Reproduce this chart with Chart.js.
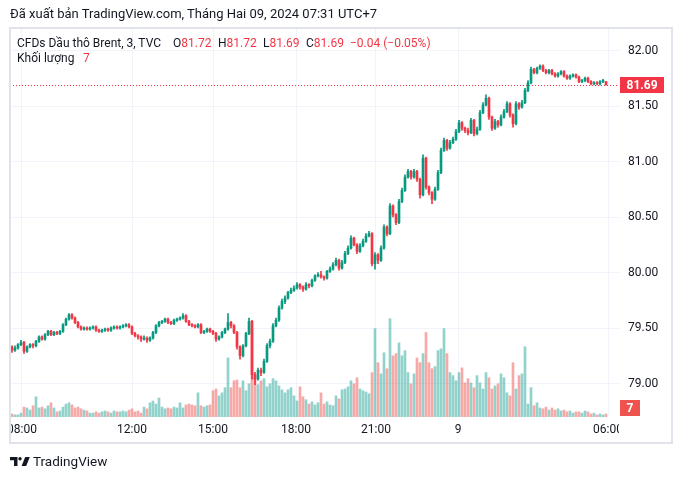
<!DOCTYPE html>
<html>
<head>
<meta charset="utf-8">
<script src="https://cdn.jsdelivr.net/npm/chart.js@4.4.1/dist/chart.umd.min.js"></script>
<style>
html,body{margin:0;padding:0;background:#fff;width:682px;height:479px;overflow:hidden;font-family:Roboto,"Liberation Sans",sans-serif;color:#131722}
#wrap{position:relative;width:682px;height:479px}
#c{position:absolute;left:0;top:0;width:682px;height:479px}
.t{position:absolute;white-space:nowrap;font-size:13px;line-height:16px;color:#131722}
.lg{font-size:12px;line-height:16px}
.r{color:#f23645}
#frame{position:absolute;left:9px;top:27px;width:664px;height:417px;box-sizing:border-box;border:2px solid #e0e3eb;pointer-events:none}
#logo{position:absolute;left:10px;top:457px}
</style>
</head>
<body>
<div id="wrap">
<canvas id="c" width="682" height="479"></canvas>
<div id="frame"></div>
<div class="t" style="left:10px;top:6px">Đã xuất bản TradingView.com, Tháng Hai 09, 2024 07:31 UTC+7</div>
<div class="t lg" style="left:17px;top:35px">CFDs Dầu thô Brent, 3, TVC</div>
<div class="t lg" style="left:173px;top:35px">O<span class="r">81.72</span></div>
<div class="t lg" style="left:218px;top:35px">H<span class="r">81.72</span></div>
<div class="t lg" style="left:263px;top:35px">L<span class="r">81.69</span></div>
<div class="t lg" style="left:306px;top:35px">C<span class="r">81.69</span></div>
<div class="t lg r" style="left:350px;top:35px">−0.04 (−0.05%)</div>
<div class="t lg" style="left:17px;top:50px">Khối lượng</div>
<div class="t lg r" style="left:83px;top:50px">7</div>
<svg id="logo" width="20" height="9" viewBox="0 0 20 9"><path fill="#131722" d="M0 0H7.5V9H4V3.2H0Z"/><circle fill="#131722" cx="10" cy="1.7" r="1.7"/><path fill="#131722" d="M11.6 9L15.2 0H19.8L16.2 9Z"/></svg>
<div class="t" style="left:33px;top:453px;font-size:13.5px">TradingView</div>
</div>
<script>
// ---- data: 3-min CFD Brent candles (resampled slots) ----
const opens = [
79.33,79.30,79.32,79.35,79.37,79.29,79.33,79.35,79.34,79.38,
79.42,79.40,79.44,79.47,79.44,79.46,79.45,79.47,79.53,79.58,
79.62,79.59,79.55,79.51,79.49,79.50,79.49,79.50,79.51,79.48,
79.47,79.48,79.49,79.48,79.50,79.51,79.50,79.51,79.52,79.53,
79.51,79.45,79.43,79.42,79.40,79.41,79.39,79.41,79.46,79.52,
79.55,79.56,79.58,79.55,79.54,79.57,79.58,79.59,79.61,79.56,
79.53,79.52,79.51,79.53,79.46,79.47,79.49,79.47,79.45,79.40,
79.42,79.46,79.49,79.55,79.52,79.46,79.33,79.25,79.34,79.45,
79.56,79.08,79.04,79.12,79.10,79.20,79.34,79.38,79.52,79.57,
79.68,79.74,79.77,79.82,79.84,79.86,79.89,79.87,79.85,79.89,
79.88,79.93,79.97,79.98,79.96,79.95,80.01,80.03,80.07,80.11,
80.04,80.09,80.17,80.22,80.31,80.25,80.19,80.24,80.28,80.33,
80.35,80.08,80.16,80.11,80.22,80.41,80.35,80.60,80.52,80.45,
80.64,80.74,80.86,80.91,80.86,80.91,80.84,80.70,81.03,80.77,
80.72,80.66,80.75,80.90,81.10,81.19,81.12,81.17,81.20,81.27,
81.35,81.30,81.28,81.26,81.37,81.25,81.29,81.44,81.51,81.57,
81.40,81.30,81.36,81.33,81.40,81.45,81.52,81.42,81.34,81.52,
81.49,81.53,81.64,81.71,81.83,81.80,81.84,81.86,81.82,81.80,
81.82,81.79,81.77,81.79,81.81,81.77,81.75,81.77,81.78,81.76,
81.72,81.73,81.75,81.72,81.70,81.71,81.70,81.72,81.72];
const highs = [
79.34,79.34,79.36,79.39,79.38,79.34,79.36,79.36,79.39,79.43,
79.43,79.45,79.48,79.48,79.47,79.47,79.48,79.54,79.59,79.63,
79.63,79.60,79.56,79.52,79.51,79.51,79.51,79.52,79.52,79.49,
79.49,79.50,79.50,79.51,79.52,79.52,79.52,79.53,79.54,79.54,
79.52,79.46,79.44,79.43,79.43,79.42,79.42,79.47,79.53,79.56,
79.57,79.59,79.59,79.56,79.58,79.59,79.60,79.63,79.62,79.57,
79.54,79.53,79.54,79.54,79.48,79.50,79.50,79.48,79.46,79.43,
79.47,79.50,79.63,79.56,79.53,79.47,79.34,79.35,79.46,79.59,
79.57,79.10,79.14,79.14,79.22,79.36,79.40,79.54,79.59,79.70,
79.76,79.79,79.83,79.86,79.88,79.91,79.90,79.88,79.91,79.90,
79.94,79.98,80.00,80.01,79.97,80.02,80.05,80.09,80.13,80.12,
80.11,80.19,80.24,80.33,80.32,80.26,80.26,80.30,80.35,80.37,
80.36,80.18,80.17,80.24,80.43,80.42,80.62,80.61,80.53,80.66,
80.76,80.88,80.93,80.92,80.93,80.92,80.85,81.06,81.04,80.78,
80.73,80.77,80.92,81.12,81.21,81.20,81.19,81.22,81.29,81.37,
81.36,81.31,81.30,81.39,81.38,81.31,81.46,81.53,81.60,81.58,
81.41,81.38,81.37,81.42,81.47,81.54,81.53,81.43,81.54,81.53,
81.55,81.66,81.73,81.85,81.84,81.85,81.87,81.87,81.83,81.83,
81.83,81.80,81.80,81.82,81.82,81.78,81.78,81.79,81.79,81.77,
81.74,81.76,81.76,81.73,81.72,81.72,81.73,81.74,81.72];
const lows = [
79.28,79.29,79.31,79.34,79.27,79.28,79.32,79.32,79.33,79.37,
79.39,79.39,79.43,79.43,79.43,79.44,79.44,79.46,79.52,79.57,
79.58,79.54,79.50,79.48,79.48,79.48,79.48,79.49,79.47,79.46,
79.46,79.47,79.47,79.47,79.49,79.49,79.49,79.50,79.51,79.50,
79.44,79.42,79.40,79.38,79.39,79.37,79.38,79.40,79.45,79.51,
79.54,79.55,79.54,79.53,79.53,79.56,79.57,79.58,79.55,79.52,
79.51,79.50,79.50,79.45,79.45,79.46,79.46,79.44,79.38,79.39,
79.41,79.45,79.48,79.50,79.45,79.31,79.22,79.24,79.33,79.44,
79.04,78.99,79.03,79.07,79.09,79.19,79.32,79.37,79.51,79.56,
79.67,79.72,79.76,79.81,79.83,79.85,79.85,79.83,79.84,79.86,
79.87,79.92,79.96,79.95,79.93,79.94,80.00,80.02,80.06,80.02,
80.03,80.08,80.16,80.21,80.24,80.17,80.18,80.23,80.27,80.32,
80.06,80.03,80.08,80.10,80.21,80.33,80.34,80.50,80.43,80.44,
80.63,80.73,80.85,80.84,80.85,80.82,80.67,80.69,80.75,80.70,
80.62,80.65,80.74,80.89,81.09,81.10,81.11,81.16,81.19,81.26,
81.28,81.26,81.24,81.25,81.23,81.24,81.28,81.43,81.50,81.38,
81.28,81.29,81.31,81.32,81.39,81.44,81.40,81.31,81.33,81.47,
81.48,81.52,81.63,81.70,81.79,81.79,81.83,81.81,81.79,81.79,
81.78,81.76,81.76,81.78,81.76,81.74,81.74,81.76,81.75,81.71,
81.71,81.72,81.71,81.69,81.69,81.69,81.69,81.71,81.69];
const closes = [
79.30,79.32,79.35,79.37,79.29,79.33,79.35,79.34,79.38,79.42,
79.40,79.44,79.47,79.44,79.46,79.45,79.47,79.53,79.58,79.62,
79.59,79.55,79.51,79.49,79.50,79.49,79.50,79.51,79.48,79.47,
79.48,79.49,79.48,79.50,79.51,79.50,79.51,79.52,79.53,79.51,
79.45,79.43,79.42,79.40,79.41,79.39,79.41,79.46,79.52,79.55,
79.56,79.58,79.55,79.54,79.57,79.58,79.59,79.61,79.56,79.53,
79.52,79.51,79.53,79.46,79.47,79.49,79.47,79.45,79.40,79.42,
79.46,79.49,79.55,79.52,79.46,79.33,79.25,79.34,79.45,79.56,
79.08,79.04,79.12,79.10,79.20,79.34,79.38,79.52,79.57,79.68,
79.74,79.77,79.82,79.84,79.86,79.89,79.87,79.85,79.89,79.88,
79.93,79.97,79.98,79.96,79.95,80.01,80.03,80.07,80.11,80.04,
80.09,80.17,80.22,80.31,80.25,80.19,80.24,80.28,80.33,80.35,
80.08,80.16,80.11,80.22,80.41,80.35,80.60,80.52,80.45,80.64,
80.74,80.86,80.91,80.86,80.91,80.84,80.70,81.03,80.77,80.72,
80.66,80.75,80.90,81.10,81.19,81.12,81.17,81.20,81.27,81.35,
81.30,81.28,81.26,81.37,81.25,81.29,81.44,81.51,81.57,81.40,
81.30,81.36,81.33,81.40,81.45,81.52,81.42,81.34,81.52,81.49,
81.53,81.64,81.71,81.83,81.80,81.84,81.86,81.82,81.80,81.82,
81.79,81.77,81.79,81.81,81.77,81.75,81.77,81.78,81.76,81.72,
81.73,81.75,81.72,81.70,81.71,81.70,81.72,81.73,81.69];
const volumes = [
7,5,5,9,23,21,16,26,47,21,
23,19,26,33,21,12,14,23,30,33,
28,21,23,19,16,14,9,9,12,9,
12,14,12,9,14,12,12,14,12,16,
19,12,14,9,23,19,33,37,30,44,
23,19,21,19,23,21,33,21,28,30,
28,26,56,26,23,26,28,61,65,49,
56,68,137,68,84,86,68,84,61,77,
205,89,75,84,89,70,77,89,84,72,
63,56,63,68,49,37,70,47,40,30,
35,28,33,56,30,35,28,26,49,42,
63,65,70,84,77,91,65,61,58,54,
103,205,126,100,149,112,228,142,147,172,
142,154,103,77,100,137,126,147,196,126,
112,117,154,158,205,147,103,96,84,103,
114,79,89,79,68,96,79,65,103,91,
65,72,77,100,91,56,49,126,65,96,
100,163,30,68,26,33,21,19,23,16,
21,16,19,14,16,12,14,9,12,12,
9,14,12,7,9,5,7,5,7];
const timeLabels = ['08:00','12:00','15:00','18:00','21:00','9','06:00'];
const timeSlots  = [3.333, 40, 67, 94.667, 121.333, 148.667, 198.667];
const priceTicks = [79.00, 79.50, 80.00, 80.50, 81.00, 81.50, 82.00];

// ---- styling ----
const UP = '#089981', DN = '#f23645';
const VUP = 'rgba(38,166,154,0.5)', VDN = 'rgba(239,83,80,0.5)';
const FONT = 'Roboto, "Liberation Sans", sans-serif';
const idx = opens.map((_, i) => i);
const isUp = idx.map(i => closes[i] >= opens[i]);

Chart.defaults.font.family = FONT;

const overlay = {
  id: 'overlay',
  beforeDatasetsDraw(chart) {
    const {ctx, chartArea: a, scales: {y}} = chart;
    const py = Math.round(y.getPixelForValue(closes[closes.length - 1])) + 0.5;
    ctx.save();
    ctx.strokeStyle = DN; ctx.lineWidth = 1; ctx.setLineDash([1, 2]);
    ctx.beginPath(); ctx.moveTo(a.left, py); ctx.lineTo(a.right, py); ctx.stroke();
    ctx.restore();
  },
  afterDraw(chart) {
    const {ctx, chartArea: a, scales: {x, y, y2}} = chart;
    ctx.save();
    ctx.beginPath(); ctx.rect(a.left, a.bottom, a.right - a.left, 26); ctx.clip();
    ctx.font = '12px ' + FONT; ctx.fillStyle = '#131722';
    ctx.textAlign = 'center'; ctx.textBaseline = 'middle';
    timeSlots.forEach((s, k) => ctx.fillText(timeLabels[k], x.getPixelForValue(s), a.bottom + 13));
    ctx.restore();

    ctx.save();
    const last = closes[closes.length - 1];
    const py = Math.round(y.getPixelForValue(last));
    ctx.fillStyle = DN;
    ctx.fillRect(a.right + 1, py - 8, 44, 16);
    ctx.fillStyle = '#fff'; ctx.font = 'bold 12px ' + FONT;
    ctx.textAlign = 'center'; ctx.textBaseline = 'middle';
    ctx.fillText(last.toFixed(2), a.right + 23, py + 0.5);

    const lv = volumes[volumes.length - 1];
    const vy = Math.min(Math.round(y2.getPixelForValue(lv)), a.bottom - 9);
    ctx.fillStyle = '#ef5350';
    ctx.fillRect(a.right + 1, vy - 8, 20, 16);
    ctx.fillStyle = '#fff';
    ctx.fillText(String(lv), a.right + 11, vy + 0.5);
    ctx.restore();
  }
};

new Chart(document.getElementById('c'), {
  type: 'bar',
  data: {
    datasets: [
      { label: 'body', data: idx.map(i => ({x: i, y: [opens[i], closes[i]]})),
        backgroundColor: isUp.map(u => u ? UP : DN), barThickness: 2, minBarLength: 1,
        grouped: false, yAxisID: 'y', order: 1 },
      { label: 'wick', data: idx.map(i => ({x: i, y: [lows[i], highs[i]]})),
        backgroundColor: isUp.map(u => u ? UP : DN), barThickness: 1,
        grouped: false, yAxisID: 'y', order: 2 },
      { label: 'volume', data: idx.map(i => ({x: i, y: volumes[i]})),
        backgroundColor: isUp.map(u => u ? VUP : VDN), barThickness: 2,
        grouped: false, yAxisID: 'y2', order: 3 }
    ]
  },
  options: {
    responsive: false, animation: false, devicePixelRatio: 1,
    layout: { padding: { left: 10, top: 29, right: 10, bottom: 36 } },
    plugins: { legend: { display: false }, tooltip: { enabled: false } },
    scales: {
      x: {
        type: 'linear', min: -2/3, max: 607/3, offset: false,
        grid: { color: '#f0f3fa', offset: false, drawTicks: false },
        border: { display: false },
        ticks: { display: false },
        afterBuildTicks: s => { s.ticks = timeSlots.map(v => ({value: v})); },
        afterFit: s => { s.height = 26; }
      },
      y: {
        position: 'right', min: 78.6982, max: 82.1937,
        grid: { color: '#f0f3fa', drawTicks: false },
        border: { display: false },
        ticks: { padding: 9, color: '#131722', font: { size: 12 }, callback: v => Number(v).toFixed(2) },
        afterBuildTicks: s => { s.ticks = priceTicks.map(v => ({value: v})); },
        afterFit: s => { s.width = 53; }
      },
      y2: { display: false, min: 0, max: 900 }
    }
  },
  plugins: [overlay]
});
</script>
</body>
</html>
